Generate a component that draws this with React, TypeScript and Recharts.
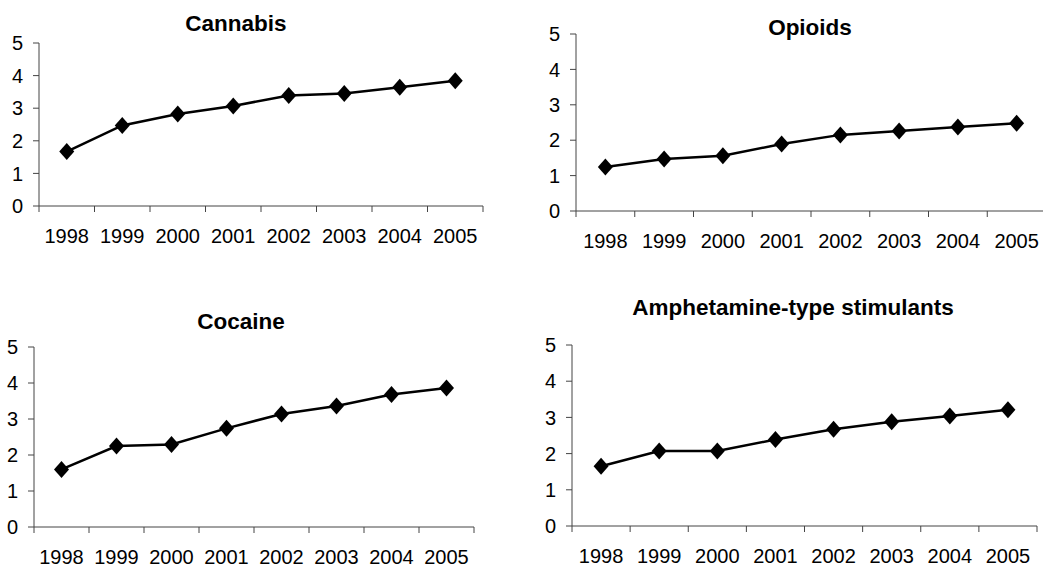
import { ComposedChart, Line, XAxis, YAxis } from "recharts";

const years = ["1998", "1999", "2000", "2001", "2002", "2003", "2004", "2005"];
const cannabis = [1.67, 2.47, 2.82, 3.07, 3.39, 3.45, 3.64, 3.84];
const opioids = [1.24, 1.47, 1.56, 1.89, 2.15, 2.26, 2.37, 2.48];
const cocaine = [1.6, 2.25, 2.29, 2.74, 3.14, 3.36, 3.68, 3.86];
const ats = [1.65, 2.07, 2.07, 2.39, 2.67, 2.88, 3.04, 3.21];
const yTicks = [0, 1, 2, 3, 4, 5];

const FONT = '"Liberation Sans", Arial, sans-serif';
const AXIS = "#444";
const X_TICK_SIZE = 6;
const X_TICK_MARGIN = 17;
const X_AXIS_HEIGHT = 40;

type Panel = {
  title: string;
  values: number[];
  box: { left: number; top: number; w: number; h: number };
  plot: { left: number; right: number; top: number; bottom: number };
  titleAt: { cx: number; cy: number };
};

const panels: Panel[] = [
  {
    title: "Cannabis",
    values: cannabis,
    box: { left: 0, top: 0, w: 520, h: 284 },
    plot: { left: 39, right: 483, top: 43, bottom: 206 },
    titleAt: { cx: 236, cy: 24 },
  },
  {
    title: "Opioids",
    values: opioids,
    box: { left: 520, top: 0, w: 530, h: 284 },
    plot: { left: 576, right: 1046, top: 34, bottom: 211 },
    titleAt: { cx: 810, cy: 28 },
  },
  {
    title: "Cocaine",
    values: cocaine,
    box: { left: 0, top: 284, w: 520, h: 284 },
    plot: { left: 34, right: 474, top: 347, bottom: 527 },
    titleAt: { cx: 241, cy: 322 },
  },
  {
    title: "Amphetamine-type stimulants",
    values: ats,
    box: { left: 520, top: 284, w: 523, h: 284 },
    plot: { left: 572, right: 1037, top: 345, bottom: 526 },
    titleAt: { cx: 793, cy: 308 },
  },
];

// category ticks: label at band centre, tick marks at band edges (Excel style)
const YearTick = (props: any) => {
  const { x, y, payload, index } = props;
  const half = payload?.offset ?? 0;
  const y0 = y - X_TICK_MARGIN - X_TICK_SIZE;
  const y1 = y - X_TICK_MARGIN;
  const last = index === years.length - 1;
  return (
    <g>
      <line x1={x - half} x2={x - half} y1={y0} y2={y1} stroke={AXIS} />
      {last && <line x1={x + half} x2={x + half} y1={y0} y2={y1} stroke={AXIS} />}
      <text
        x={x}
        y={y}
        dy="0.71em"
        textAnchor="middle"
        fill="#000"
        fontSize={20}
        fontFamily={FONT}
      >
        {payload.value}
      </text>
    </g>
  );
};

const Diamond = (props: any) => {
  const { cx, cy } = props;
  if (cx == null || cy == null) return null;
  const w = 7.5;
  const h = 8.5;
  return (
    <polygon
      points={`${cx},${cy - h} ${cx + w},${cy} ${cx},${cy + h} ${cx - w},${cy}`}
      fill="#000"
    />
  );
};

const PanelChart = ({ p }: { p: Panel }) => {
  const data = years.map((year, i) => ({ year, value: p.values[i] }));
  const { box, plot } = p;
  const margin = {
    top: plot.top - box.top,
    left: 0,
    right: box.left + box.w - plot.right,
    bottom: box.top + box.h - plot.bottom - X_AXIS_HEIGHT,
  };
  return (
    <>
      <div
        style={{
          position: "absolute",
          left: p.titleAt.cx - 250,
          width: 500,
          top: p.titleAt.cy - 13,
          lineHeight: "26px",
          textAlign: "center",
          fontFamily: FONT,
          fontWeight: "bold",
          fontSize: 22.5,
          color: "#000",
        }}
      >
        {p.title}
      </div>
      <div style={{ position: "absolute", left: box.left, top: box.top }}>
        <ComposedChart width={box.w} height={box.h} data={data} margin={margin}>
          <XAxis
            dataKey="year"
            type="category"
            scale="band"
            height={X_AXIS_HEIGHT}
            interval={0}
            axisLine={{ stroke: AXIS }}
            tickLine={false}
            tickSize={X_TICK_SIZE}
            tickMargin={X_TICK_MARGIN}
            tick={<YearTick />}
          />
          <YAxis
            type="number"
            domain={[0, 5]}
            ticks={yTicks}
            interval={0}
            width={plot.left - box.left}
            axisLine={{ stroke: AXIS }}
            tickLine={{ stroke: AXIS }}
            tickSize={6}
            tickMargin={10}
            tick={{ fill: "#000", fontSize: 20, fontFamily: FONT }}
          />
          <Line
            dataKey="value"
            stroke="#000"
            strokeWidth={2.5}
            dot={<Diamond />}
            activeDot={false}
            isAnimationActive={false}
          />
        </ComposedChart>
      </div>
    </>
  );
};

export default function App() {
  return (
    <div
      style={{
        position: "absolute",
        left: 0,
        top: 0,
        width: 1043,
        height: 568,
        overflow: "hidden",
        background: "#fff",
      }}
    >
      {panels.map((p) => (
        <PanelChart key={p.title} p={p} />
      ))}
    </div>
  );
}
